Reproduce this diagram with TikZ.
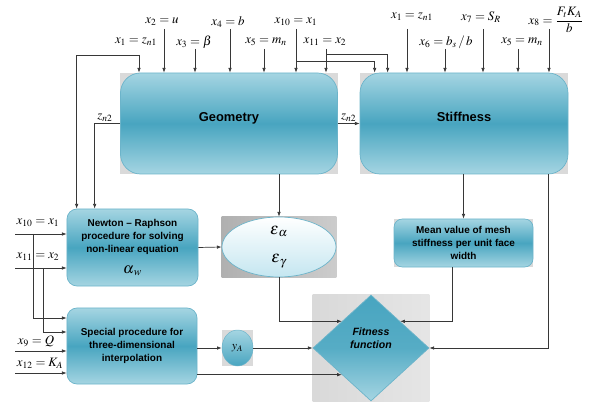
\documentclass[tikz,border=0pt]{standalone}
\usepackage{amsmath}
\usepackage{mathptmx}
\usepackage{fontspec}
\setsansfont{Liberation Sans}
\usetikzlibrary{positioning,shapes.geometric,arrows.meta,backgrounds}
\definecolor{boxLight}{RGB}{165,213,226}
\definecolor{boxDark}{RGB}{72,165,192}
\definecolor{boxEdge}{RGB}{108,180,202}
\definecolor{ovalLight}{RGB}{196,230,240}
\definecolor{lineColor}{RGB}{55,55,55}
\definecolor{shadowGray}{RGB}{218,218,218}
\tikzstyle{diagram} = [x = 0.03cm, y = -0.03cm]
\tikzstyle{blockStyle} = [draw=boxEdge, line width=0.6pt, top color=boxLight, bottom color=boxLight, middle color=boxDark, font=\sffamily\bfseries\fontsize{8.5}{11}\selectfont, align=center, inner sep=0pt]
\tikzstyle{bigBlock} = [blockStyle, rectangle, rounded corners = .6cm, font=\sffamily\bfseries\fontsize{11}{13}\selectfont, text height=8pt, text depth=12pt]
\tikzstyle{smallBlock} = [blockStyle, rectangle, rounded corners = .3cm]
\tikzstyle{ovalStyle} = [ellipse, draw=boxEdge, line width=0.6pt, top color=white, bottom color=ovalLight, inner sep=0pt, align=center, font=\fontsize{14}{14}\selectfont]
\tikzstyle{fitnessStyle} = [diamond, draw=boxEdge, line width=0.6pt, top color=boxDark, bottom color=boxLight, middle color=boxDark!85!boxLight, inner sep=0pt, align=center, font=\sffamily\bfseries\itshape\fontsize{9}{11.5}\selectfont]
\tikzstyle{varLabel} = [inner sep=1pt, font=\fontsize{11}{13}\selectfont]
\tikzstyle{flowLine} = [draw=lineColor, line width=0.6pt]
\tikzstyle{flowArrow} = [flowLine, -{Latex[length=4pt,width=3pt]}]
\newcommand{\topInput}[3]{\coordinate (tail) at (#1,#2); \draw [flowArrow] (tail) -- (tail |- #3.north);}
\newcommand{\boxShadow}[1]{\fill [shadowGray] (#1.west |- #1.north) rectangle (#1.east |- #1.south);}

\begin{document}
\begin{tikzpicture}[diagram]
\useasboundingbox (0,0) rectangle (599,405);
% blocks
\node [bigBlock, minimum width=6.51cm, minimum height=3.03cm] (geo) at (229,123.5) {Geometry};
\node [bigBlock, minimum width=6.24cm, minimum height=3.03cm] (st) at (464,123.5) {Stiffness};
\node [smallBlock, minimum width=3.93cm, minimum height=2.31cm] (nr) at (132.5,247.5) {Newton -- Raphson\\procedure for solving\\non-linear equation\\[7pt]{\normalfont\fontsize{13}{13}\selectfont$\alpha_{\mkern2mu w}$}};
\node [smallBlock, minimum width=3.9cm, minimum height=2.28cm] (sp) at (132,346) {Special procedure for\\three-dimensional\\interpolation};
\node [smallBlock, rounded corners=.25cm, minimum width=4.17cm, minimum height=1.44cm] (mv) at (463.5,243) {Mean value of mesh\\stiffness per unit face\\width};
\node [ovalStyle, minimum width=3.42cm, minimum height=1.8cm] (eps) at (279,247) {$\varepsilon_{\mkern2mu\alpha}$\\[10pt]$\varepsilon_{\mkern2mu\gamma}$};
\node [fitnessStyle, minimum width=3.48cm, minimum height=3.18cm] (fit) at (371,348) {Fitness\\function\\[5pt]~};
\node [ellipse, draw=boxEdge, line width=0.4pt, top color=boxLight, bottom color=boxDark, inner sep=0pt, minimum width=0.93cm, minimum height=1.08cm] (ya) at (237.5,348) {$y_A$};
\begin{scope}[on background layer]
  \boxShadow{geo} \boxShadow{st} \boxShadow{mv} \boxShadow{ya}
  \shade [left color=gray!62, right color=gray!40] (eps.west |- eps.north) rectangle (eps.east |- eps.south);
  \shade [left color=gray!30, right color=gray!20] (fit.west |- fit.north) rectangle (fit.east |- fit.south);
\end{scope}
% inputs of geometry
\node [varLabel] (lx1a) at (136,42) {$x_1=z_{n1}$};
\node [varLabel] (lx2) at (162,22) {$x_2=u$};
\node [varLabel] (lx3) at (194,42) {$x_3=\beta$};
\node [varLabel] (lx4) at (228,22) {$x_4=b$};
\node [varLabel] (lx5a) at (266,42) {$x_5=m_n$};
\node [varLabel] (lx10a) at (296,22) {$x_{10}=x_1$};
\node [varLabel] (lx11a) at (325,42) {$x_{11}=x_2$};
\foreach \xx/\yy in {164/29, 195/49, 230/29, 264/49, 296/29, 326/49}
  {\topInput{\xx}{\yy}{geo}}
\coordinate (zn1) at (139,55);
\draw [flowArrow] (zn1) -- (zn1 |- geo.north);
\draw [flowArrow] (zn1) -| ([xshift=.3cm]nr.north west);
\draw [flowArrow] (geo.west) -| ([xshift=.84cm]nr.north west) node [pos=.3, above, varLabel] {$z_{n2}$};
\coordinate (split10) at (296,61);
\draw [flowArrow] (split10) -| ([xshift=.45cm]st.north west);
\coordinate (split11) at (326,54);
\draw [flowArrow] (split11) -| ([xshift=.84cm]st.north west);
% inputs of stiffness
\node [varLabel] (lx1b) at (412,17) {$x_1=z_{n1}$};
\node [varLabel] (lx6) at (446,42) {$x_6=b_s\,/\,b$};
\node [varLabel] (lx7) at (481,17) {$x_7=S_R$};
\node [varLabel] (lx5b) at (522,42) {$x_5=m_n$};
\node [varLabel] (lx8) at (556,20) {$x_8=\dfrac{F_tK_A}{b}$};
\foreach \xx/\yy in {407/29, 445/49, 483/29, 518/49, 549/29}
  {\topInput{\xx}{\yy}{st}}
\draw [flowArrow] (geo.east) -- (st.west) node [midway, above, varLabel] {$z_{n2}$};
% left inputs
\node [varLabel] (lx10b) at (38,223) {$x_{10}=x_1$};
\node [varLabel] (lx11b) at (38,257) {$x_{11}=x_2$};
\node [varLabel] (lx9) at (36,341) {$x_9=Q$};
\node [varLabel] (lx12) at (40,363) {$x_{12}=K_A$};
\coordinate (in10) at (15,234);
\coordinate (in11) at (15,268);
\draw [flowArrow] (in10) -- (in10 -| nr.west);
\draw [flowArrow] (in11) -- (in11 -| nr.west);
\draw [flowArrow] (in10 -| 33,0) |- ([yshift=.84cm]sp.west);
\draw [flowArrow] (in11 -| 43,0) |- ([yshift=.42cm]sp.west);
\coordinate (in9) at (15,351);
\coordinate (in12) at (15,373);
\draw [flowArrow] (in9) -- (in9 -| sp.west);
\draw [flowArrow] (in12) -- (in12 -| sp.west);
% internal flow
\draw [flowArrow] (nr.east) -- (eps.west);
\draw [flowArrow] (geo.south -| eps.north) -- (eps.north);
\draw [flowArrow] (st.south -| mv.north) -- (mv.north);
\draw [flowArrow] (eps.south) |- (fit.north west);
\draw [flowArrow] ([xshift=-.345cm]mv.south) |- (fit.north east);
\draw [flowArrow] ([xshift=-.6cm]st.south east) |- (fit.east);
\draw [flowArrow] (sp.east |- ya.west) -- (ya.west);
\draw [flowArrow] (ya.east) -- (fit.west);
\draw [flowArrow] (sp.east |- fit.south west) -- (fit.south west);
\end{tikzpicture}
\end{document}
